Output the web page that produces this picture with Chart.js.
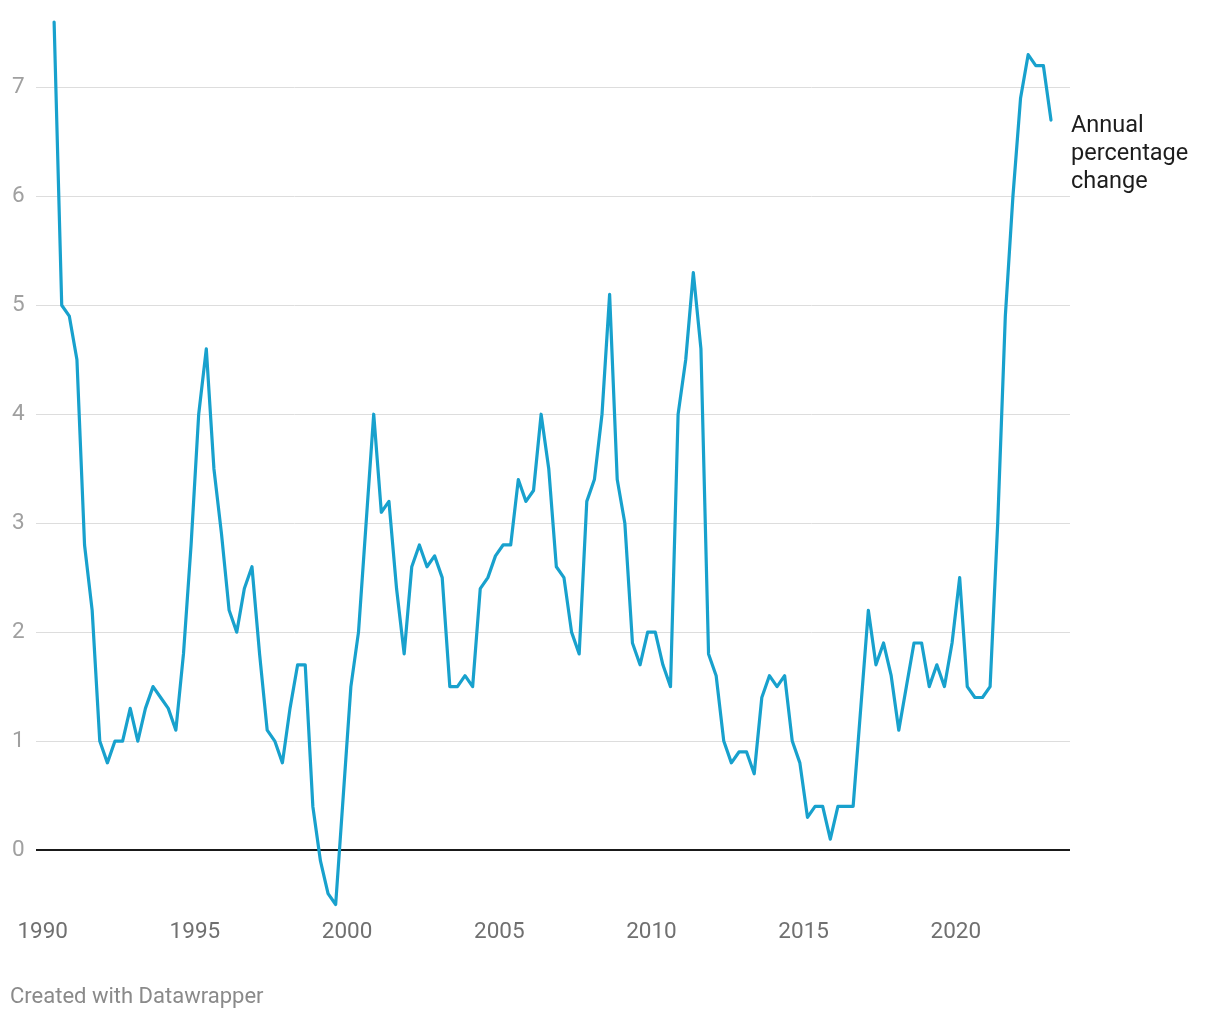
<!DOCTYPE html>
<html>
<head>
<meta charset="utf-8">
<script src="https://cdn.jsdelivr.net/npm/chart.js@4"></script>
<style>
  body { margin: 0; background: #fff; }
  #wrap { width: 1220px; height: 1020px; position: relative; }
</style>
</head>
<body>
<div id="wrap"><canvas id="line-chart"></canvas></div>
<script>
// Data: quarterly, 1990 Q2 .. 2023 Q1
const startYear = 1990;
const startQuarter = 2;
const annualChange = [
  7.6, 5.0, 4.9, 4.5, 2.8, 2.2, 1.0, 0.8, 1.0, 1.0, 1.3, 1.0, 1.3, 1.5, 1.4, 1.3, 1.1, 1.8, 2.8, 4.0, 4.6, 3.5, 2.9, 2.2, 2.0, 2.4, 2.6,
  1.8, 1.1, 1.0, 0.8, 1.3, 1.7, 1.7, 0.4, -0.1, -0.4, -0.5, 0.5, 1.5, 2.0, 3.0, 4.0, 3.1, 3.2, 2.4, 1.8, 2.6, 2.8, 2.6, 2.7, 2.5, 1.5, 1.5, 1.6, 1.5, 2.4,
  2.5, 2.7, 2.8, 2.8, 3.4, 3.2, 3.3, 4.0, 3.5, 2.6, 2.5, 2.0, 1.8, 3.2, 3.4, 4.0, 5.1, 3.4, 3.0, 1.9, 1.7, 2.0, 2.0, 1.7, 1.5, 4.0,
  4.5, 5.3, 4.6, 1.8, 1.6, 1.0, 0.8, 0.9, 0.9, 0.7, 1.4, 1.6, 1.5, 1.6, 1.0, 0.8, 0.3, 0.4, 0.4, 0.1, 0.4, 0.4, 0.4, 1.3, 2.2, 1.7,
  1.9, 1.6, 1.1, 1.5, 1.9, 1.9, 1.5, 1.7, 1.5, 1.9, 2.5, 1.5, 1.4, 1.4, 1.5, 3.0, 4.9, 6.0, 6.9, 7.3, 7.2, 7.2, 6.7
];
const yearTicks = [1990, 1995, 2000, 2005, 2010, 2015, 2020];
const valueTicks = [0, 1, 2, 3, 4, 5, 6, 7];
const seriesLabel = ["Annual", "percentage", "change"];
const credit = "Created with Datawrapper";

// quarter -> position in the middle of the quarter
const points = annualChange.map((v, i) => {
  const q = startQuarter - 1 + i;
  return { x: startYear + Math.floor(q / 4) + ((q % 4) + 0.5) / 4, y: v };
});

const FONT = "Roboto, 'Noto Sans', sans-serif";
const BLUE = "#18a1cd";

// line label + credit line
const extraText = {
  id: "extraText",
  afterDraw(chart) {
    const ctx = chart.ctx;
    const meta = chart.getDatasetMeta(0);
    const last = meta.data[meta.data.length - 1];
    ctx.save();
    ctx.font = "23.5px " + FONT;
    ctx.fillStyle = "#1d1d1d";
    ctx.textAlign = "left";
    ctx.textBaseline = "middle";
    seriesLabel.forEach((t, i) => {
      ctx.fillText(t, chart.chartArea.right + 1, last.y + 6 + i * 28);
    });
    ctx.font = "22px " + FONT;
    ctx.fillStyle = "#8a8a8a";
    ctx.fillText(credit, 10, 997);
    ctx.restore();
  }
};

new Chart(document.getElementById("line-chart"), {
  type: "line",
  data: {
    datasets: [{
      data: points,
      label: "Annual percentage change",
      borderColor: BLUE,
      borderWidth: 3.2,
      pointRadius: 0,
      tension: 0,
      fill: false,
      clip: false,
      borderJoinStyle: "round",
      borderCapStyle: "round"
    }]
  },
  options: {
    responsive: true,
    maintainAspectRatio: false,
    animation: false,
    layout: { padding: { top: 22, left: 12, right: 150, bottom: 0 } },
    plugins: {
      legend: { display: false },
      tooltip: { enabled: false },
      title: { display: false }
    },
    scales: {
      x: {
        type: "linear",
        min: 1989.78,
        max: 2023.75,
        afterBuildTicks: (scale) => { scale.ticks = yearTicks.map(v => ({ value: v })); },
        afterFit: (scale) => { scale.height = 115.5; },
        grid: { display: false, drawTicks: false },
        border: { display: false },
        ticks: {
          padding: 14,
          maxRotation: 0,
          autoSkip: false,
          color: "#707070",
          font: { family: FONT, size: 22.5 },
          callback: (v) => String(v)
        }
      },
      y: {
        min: -0.5,
        max: 7.6,
        afterBuildTicks: (scale) => { scale.ticks = valueTicks.map(v => ({ value: v })); },
        afterFit: (scale) => { scale.width = 24; },
        grid: {
          drawTicks: false,
          color: (c) => c.tick && c.tick.value === 0 ? "#1a1a1a" : "#dddddd",
          lineWidth: (c) => c.tick && c.tick.value === 0 ? 2 : 1
        },
        border: { display: false },
        ticks: {
          crossAlign: "far",
          padding: 0,
          color: "#a0a0a0",
          font: { family: FONT, size: 22.5 },
          callback: (v) => String(v)
        }
      }
    }
  },
  plugins: [extraText]
});
</script>
</body>
</html>
